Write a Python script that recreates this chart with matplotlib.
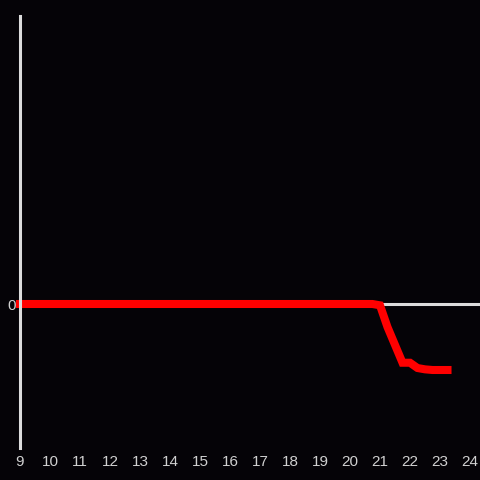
import matplotlib
matplotlib.use("Agg")
import matplotlib.pyplot as plt

# hours of the day, 15 minute steps, and the change value
hours = [9 + 0.25 * i for i in range(0, 48)] + [21.0, 21.25, 21.5, 21.75, 22.0, 22.25, 22.5, 22.75, 23.0, 23.25]
values = [0.0] * 48 + [-0.02, -0.35, -0.62, -0.89, -0.89, -0.97, -0.99, -1.0, -1.0, -1.0]
xticks = list(range(9, 25))

bg = "#050307"
grey = "#dcdcdc"

plt.rcParams["font.family"] = ["Liberation Sans", "DejaVu Sans"]

fig = plt.figure(figsize=(4.8, 4.8), dpi=100, facecolor=bg)
ax = fig.add_axes([20 / 480, 32 / 480, 460 / 480, 432 / 480], facecolor=bg)

ax.axhline(0, color=grey, linewidth=2.2, zorder=1)
ax.plot(hours, values, color="#ff0000", linewidth=5.8,
        solid_capstyle="projecting", solid_joinstyle="miter", zorder=2,
        clip_on=False)

ax.set_xlim(9, 9 + 460 / 30)
ax.set_ylim(-144 / 66, 288 / 66)
ax.set_xticks(xticks)
ax.set_yticks([0])
ax.tick_params(length=0, colors="#d0d0d0", labelsize=11)
ax.tick_params(axis="x", pad=5)
ax.tick_params(axis="y", pad=3)

for s in ["top", "right", "bottom"]:
    ax.spines[s].set_visible(False)
ax.spines["left"].set_color(grey)
ax.spines["left"].set_linewidth(2.2)

fig.savefig("out.png", dpi=100, facecolor=bg)
